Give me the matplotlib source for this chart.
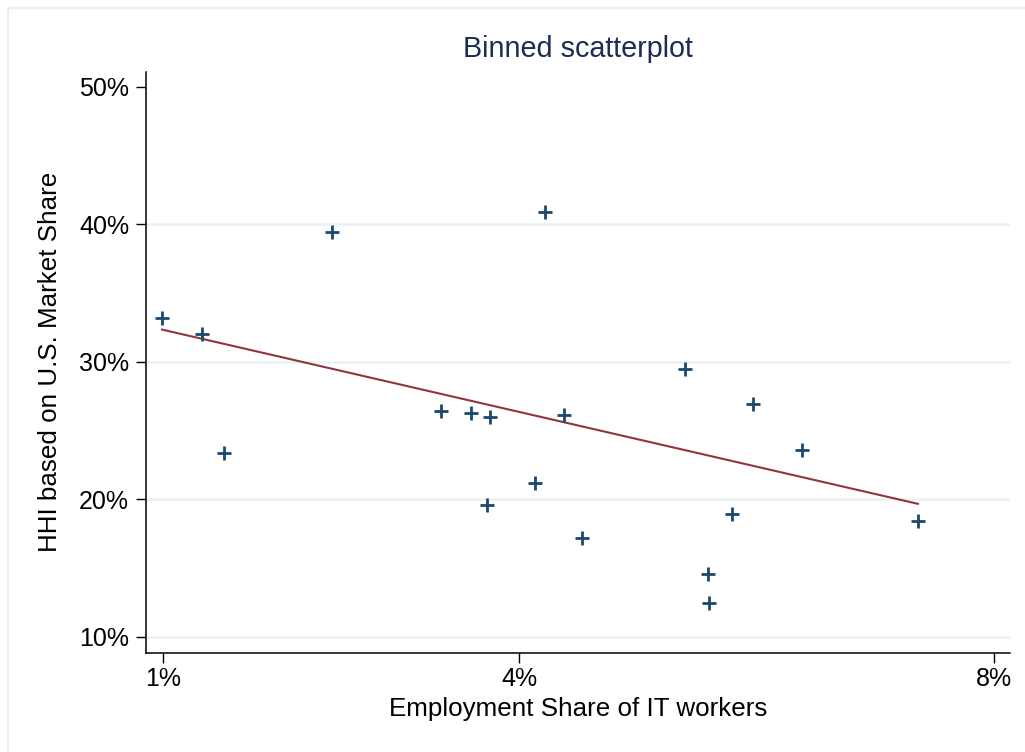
import matplotlib
matplotlib.use("Agg")
import matplotlib.pyplot as plt
from matplotlib.patches import Rectangle
from matplotlib.ticker import FixedLocator, FuncFormatter

# Binned means: employment share of IT workers (%) vs. HHI (%)
it_share = [0.99, 1.33, 1.51, 2.42, 3.34, 3.59, 3.75, 3.73, 4.13, 4.22,
            4.38, 4.53, 5.40, 5.59, 5.60, 5.79, 5.97, 6.38, 7.36]
hhi = [33.2, 32.0, 23.35, 39.45, 26.4, 26.3, 25.95, 19.6, 21.2, 40.85,
       26.1, 17.15, 29.45, 14.55, 12.45, 18.95, 26.95, 23.6, 18.4]

# Linear fit line (intercept/slope in percentage points)
fit_intercept = 34.30
fit_slope = -1.989

x_ticks = [1, 4, 8]
y_ticks = [10, 20, 30, 40, 50]
y_grid = [10, 20, 30, 40]

W, H = 1025, 752
fig = plt.figure(figsize=(W / 100, H / 100), dpi=100)
fig.patch.set_facecolor("white")
plt.rcParams["font.family"] = ["Liberation Sans", "DejaVu Sans"]

# Outer graph-region border
fig.add_artist(Rectangle((8 / W, -0.05), 1.1, 1 - 8 / H + 0.05,
                         transform=fig.transFigure, fill=False,
                         edgecolor="#e6eef0", linewidth=1.6))

left, right, bottom, top = 145.7, 1010, 653.3, 71.5
ax = fig.add_axes([left / W, 1 - bottom / H, (right - left) / W, (bottom - top) / H])

x_min, x_max = 0.852, 8.137
y_min, y_max = 8.79, 51.1
ax.set_xlim(x_min, x_max)
ax.set_ylim(y_min, y_max)

for g in y_grid:
    ax.axhline(g, color="#eaf2f3", linewidth=1.8, zorder=0)

ax.scatter(it_share, hhi, marker="+", s=95, linewidths=2.0,
           color="#1a476f", zorder=3)

fx = [min(it_share), max(it_share)]
fy = [fit_intercept + fit_slope * v for v in fx]
ax.plot(fx, fy, color="#90353b", linewidth=1.5, zorder=2)

for side in ("top", "right"):
    ax.spines[side].set_visible(False)
for side in ("left", "bottom"):
    ax.spines[side].set_linewidth(1.1)
    ax.spines[side].set_color("black")

pct = FuncFormatter(lambda v, p: f"{v:g}%")
ax.xaxis.set_major_locator(FixedLocator(x_ticks))
ax.yaxis.set_major_locator(FixedLocator(y_ticks))
ax.xaxis.set_major_formatter(pct)
ax.yaxis.set_major_formatter(pct)
ax.tick_params(axis="both", direction="out", length=7, width=1.0,
               labelsize=18, colors="black", pad=3)
ax.tick_params(axis="y", pad=5)

fig.text(577.5 / W, 1 - 57 / H, "Binned scatterplot", ha="center",
         va="baseline", fontsize=20.7, color="#1c2c55")
fig.text(577.7 / W, 1 - 716 / H, "Employment Share of IT workers",
         ha="center", va="baseline", fontsize=18.7, color="black")
fig.text(50 / W, 1 - 362 / H, "HHI based on U.S. Market Share",
         ha="center", va="center", rotation=90, fontsize=18.7, color="black")

fig.savefig("out.png", dpi=100, facecolor="white")
